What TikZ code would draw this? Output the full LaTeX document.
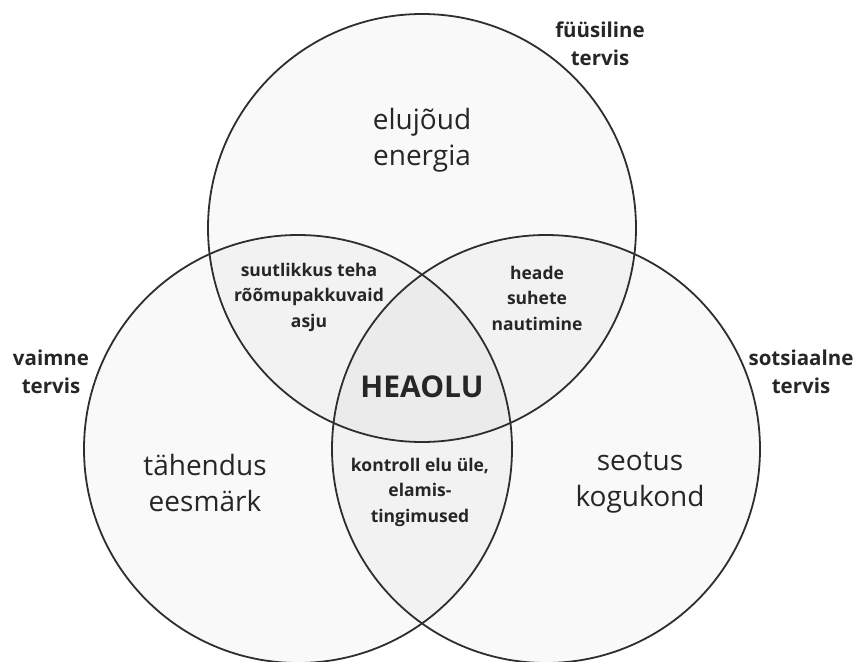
\documentclass[tikz,border=0pt]{standalone}
\usepackage{fontspec}
\setmainfont{Open Sans}
\begin{document}
\begin{tikzpicture}[x=1pt,y=-1pt,
  ring/.style={draw=black!82,line width=1.8pt},
  big/.style={font=\fontsize{28}{36}\selectfont,align=center,text=black!85},
  small/.style={font=\bfseries\fontsize{17.5}{25.5}\selectfont,align=center,text=black!85},
  side/.style={font=\bfseries\fontsize{20.5}{28}\selectfont,align=center,text=black!85},
  core/.style={font=\bfseries\fontsize{30}{34}\selectfont,text=black!85}]
\useasboundingbox (0,0) rectangle (859,661);
\fill[white] (0,0) rectangle (859,661);
\coordinate (T) at (422,228);
\coordinate (L) at (298,449);
\coordinate (R) at (546,449);
\def\rr{214}
% single fills
\fill[black!2.5] (T) circle[radius=\rr];
\fill[black!2.5] (L) circle[radius=\rr];
\fill[black!2.5] (R) circle[radius=\rr];
% pairwise
\begin{scope}\clip (T) circle[radius=\rr]; \fill[black!5] (L) circle[radius=\rr]; \fill[black!5] (R) circle[radius=\rr];\end{scope}
\begin{scope}\clip (L) circle[radius=\rr]; \fill[black!5] (R) circle[radius=\rr];\end{scope}
% triple
\begin{scope}\clip (T) circle[radius=\rr]; \clip (L) circle[radius=\rr]; \fill[black!8] (R) circle[radius=\rr];\end{scope}
\draw[ring] (T) circle[radius=\rr];
\draw[ring] (L) circle[radius=\rr];
\draw[ring] (R) circle[radius=\rr];
% texts
\node[big] (t1) at (422,140) {elujõud\\energia};
\node[big] (t2) at (205,483) {tähendus\\eesmärk};
\node[big] (t3) at (640,483) {seotus\\kogukond};
\node[side] (s1) at (600,44) {füüsiline\\tervis};
\node[side] (s2) at (51,372) {vaimne\\tervis};
\node[side] (s3) at (801,372) {sotsiaalne\\tervis};
\node[small] (p1) at (309,297) {suutlikkus teha\\rõõmupakkuvaid\\asju};
\node[small] (p2) at (537,298) {heade\\suhete\\nautimine};
\node[small] (p3) at (420,492) {kontroll elu üle,\\elamis-\\tingimused};
\node[core] (c) at (422,387) {HEAOLU};
\end{tikzpicture}
\end{document}
